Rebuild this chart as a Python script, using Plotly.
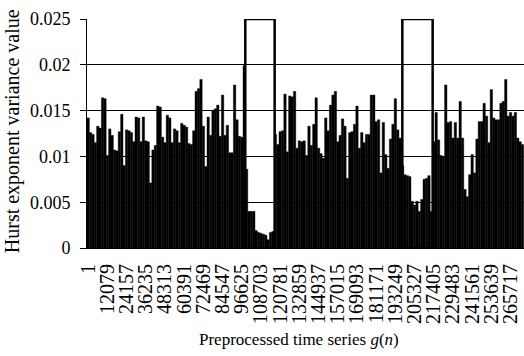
import plotly.graph_objects as go

# Hurst exponent variance value for each window
values = [
    0.0142, 0.0126, 0.0124, 0.0115, 0.0133, 0.0131, 0.0164, 0.0163, 0.0101, 0.0130,
    0.0123, 0.0107, 0.0106, 0.0127, 0.0146, 0.0090, 0.0129, 0.0128, 0.0126, 0.0116,
    0.0143, 0.0142, 0.0116, 0.0143, 0.0117, 0.0116, 0.0071, 0.0107, 0.0112, 0.0155,
    0.0154, 0.0121, 0.0115, 0.0145, 0.0142, 0.0115, 0.0130, 0.0128, 0.0115, 0.0136,
    0.0134, 0.0132, 0.0114, 0.0113, 0.0128, 0.0171, 0.0174, 0.0184, 0.0133, 0.0089,
    0.0143, 0.0123, 0.0150, 0.0152, 0.0156, 0.0122, 0.0167, 0.0123, 0.0134, 0.0104,
    0.0104, 0.0178, 0.0140, 0.0122, 0.0121, 0.0199, 0.0086, 0.0040, 0.0040, 0.0040,
    0.0019, 0.0017, 0.0016, 0.0015, 0.0014, 0.0009, 0.0017, 0.0018, 0.0124, 0.0113,
    0.0127, 0.0128, 0.0168, 0.0105, 0.0166, 0.0165, 0.0171, 0.0109, 0.0117, 0.0116,
    0.0117, 0.0101, 0.0133, 0.0112, 0.0135, 0.0164, 0.0109, 0.0103, 0.0098, 0.0142,
    0.0128, 0.0156, 0.0167, 0.0171, 0.0116, 0.0123, 0.0141, 0.0133, 0.0076, 0.0126,
    0.0127, 0.0135, 0.0155, 0.0109, 0.0126, 0.0115, 0.0124, 0.0124, 0.0167, 0.0167,
    0.0138, 0.0140, 0.0082, 0.0137, 0.0102, 0.0087, 0.0119, 0.0135, 0.0163, 0.0129,
    0.0120, 0.0090, 0.0080, 0.0079, 0.0078, 0.0051, 0.0047, 0.0051, 0.0040, 0.0053,
    0.0075, 0.0076, 0.0079, 0.0040, 0.0116, 0.0148, 0.0118, 0.0101, 0.0100, 0.0178,
    0.0137, 0.0138, 0.0120, 0.0137, 0.0120, 0.0160, 0.0120, 0.0064, 0.0056, 0.0080,
    0.0102, 0.0082, 0.0119, 0.0138, 0.0138, 0.0158, 0.0144, 0.0115, 0.0173, 0.0142,
    0.0140, 0.0140, 0.0158, 0.0160, 0.0184, 0.0144, 0.0148, 0.0144, 0.0148, 0.0120,
    0.0116, 0.0113,
]

tick_labels = [
    "1", "12079", "24157", "36235", "48313", "60391", "72469", "84547",
    "96625", "108703", "120781", "132859", "144937", "157015", "169093",
    "181171", "193249", "205327", "217405", "229483", "241561", "253639",
    "265717",
]
label_every = 8

y_ticks = [0, 0.005, 0.01, 0.015, 0.02, 0.025]
y_tick_labels = ["0", "0.005", "0.01", "0.015", "0.02", "0.025"]

# highlighted windows (category index ranges)
highlight_ranges = [(65.46, 77.7), (130.9, 143.54)]

x_idx = list(range(len(values)))
tick_vals = [i * label_every for i in range(len(tick_labels))]

FONT = "Liberation Serif"

fig = go.Figure()
fig.add_trace(go.Bar(
    x=x_idx, y=values,
    marker=dict(color="black", line=dict(color="black", width=0.4)),
    width=1.0,
))

for (a, b) in highlight_ranges:
    fig.add_shape(type="rect", xref="x", yref="y", x0=a, x1=b, y0=0, y1=0.025,
                  line=dict(color="black", width=2.5), fillcolor="rgba(0,0,0,0)",
                  layer="above")

fig.update_layout(
    width=524, height=356,
    margin=dict(l=87, r=0, t=19, b=108, autoexpand=False),
    paper_bgcolor="white", plot_bgcolor="white",
    bargap=0, showlegend=False,
    font=dict(family=FONT, color="black"),
    xaxis=dict(
        range=[-0.5, len(values) - 0.5 + 0.1], automargin=False,
        tickmode="array", tickvals=tick_vals, ticktext=tick_labels,
        tickangle=-90, tickfont=dict(family=FONT, size=20, color="black"),
        showgrid=False, zeroline=False, showline=True, linecolor="black",
        linewidth=1, ticks="", ticklabelstandoff=7,
    ),
    yaxis=dict(
        range=[0, 0.025], automargin=False, tickmode="array",
        tickvals=y_ticks, ticktext=y_tick_labels,
        tickfont=dict(family=FONT, size=18, color="black"),
        showgrid=True, gridcolor="black", gridwidth=1,
        zeroline=False, showline=True, linecolor="black", linewidth=1,
        ticks="outside", ticklen=6, tickcolor="black", ticklabelstandoff=6,
    ),
    annotations=[
        dict(text="Hurst exponent variance value", xref="paper", yref="paper",
             x=(12 - 87) / 437, y=0.51, xanchor="center", yanchor="middle",
             textangle=-90, showarrow=False, font=dict(family=FONT, size=20, color="black")),
        dict(text="Preprocessed time series <i>g</i>(<i>n</i>)", xref="paper", yref="paper",
             x=(299 - 87) / 437, y=(248.3 - 340) / 229, xanchor="center", yanchor="middle",
             showarrow=False, font=dict(family=FONT, size=17, color="black")),
    ],
)

fig.write_html("out.html", config={"displayModeBar": False, "staticPlot": True},
               post_script="document.body.style.margin='0';document.body.style.overflow='hidden';")
